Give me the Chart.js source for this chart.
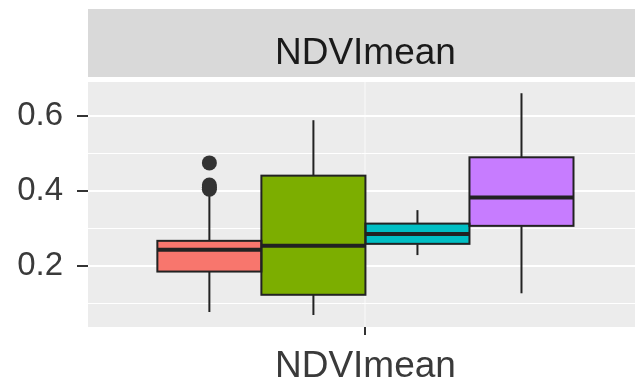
<!DOCTYPE html>
<html>
<head>
<meta charset="utf-8">
<script src="https://cdn.jsdelivr.net/npm/chart.js@4/dist/chart.umd.min.js"></script>
<style>
  html, body { margin: 0; padding: 0; background: #ffffff; }
  #wrap { width: 635px; height: 385px; }
</style>
</head>
<body>
<div id="wrap"><canvas id="c" width="635" height="385"></canvas></div>
<script>
// Facet / variable label
const facetLabel = 'NDVImean';

// Dodged group positions on the continuous x scale (one category at x = 1)
const groupPositions = [0.6625, 0.8875, 1.1125, 1.3375];
const boxColors = ['#F8766D', '#7CAE00', '#00BFC4', '#C77CFF'];

// Box statistics per group
const q1          = [0.185, 0.123, 0.259, 0.307];
const median      = [0.243, 0.254, 0.285, 0.383];
const q3          = [0.267, 0.441, 0.313, 0.490];
const whiskerLow  = [0.077, 0.069, 0.229, 0.127];
const whiskerHigh = [0.395, 0.589, 0.349, 0.661];

// Outliers: group index and value
const outlierGroup  = [0, 0, 0, 0];
const outlierValues = [0.475, 0.416, 0.410, 0.405];

// Y axis ticks
const yTicks = [0.2, 0.4, 0.6];
const yMinorTicks = [0.1, 0.3, 0.5];

Chart.defaults.font.family = "'Liberation Sans', Arial, sans-serif";

// Grey panel and facet strip
const panelPlugin = {
  id: 'panel',
  beforeDraw(chart) {
    const { ctx, chartArea: a } = chart;
    ctx.save();
    ctx.fillStyle = '#ECECEC';
    ctx.fillRect(a.left, a.top, a.right - a.left, a.bottom - a.top);
    ctx.fillStyle = '#D9D9D9';
    ctx.fillRect(a.left, 9, chart.width - a.left, 68);
    ctx.fillStyle = '#1A1A1A';
    ctx.font = "37px 'Liberation Sans', Arial, sans-serif";
    ctx.textAlign = 'center';
    ctx.textBaseline = 'alphabetic';
    ctx.fillText(facetLabel, chart.scales.x.getPixelForValue(1), 64);
    ctx.restore();
  }
};

// Whiskers behind the boxes, outlines and medians on top of them
const boxPartsPlugin = {
  id: 'boxParts',
  beforeDatasetsDraw(chart) {
    const y = chart.scales.y, ctx = chart.ctx;
    const meta = chart.getDatasetMeta(0);
    ctx.save();
    ctx.strokeStyle = '#222222';
    ctx.lineWidth = 2;
    meta.data.forEach((bar, i) => {
      ctx.beginPath();
      ctx.moveTo(bar.x, y.getPixelForValue(whiskerLow[i]));
      ctx.lineTo(bar.x, y.getPixelForValue(whiskerHigh[i]));
      ctx.stroke();
    });
    ctx.restore();
  },
  afterDatasetDraw(chart, args) {
    if (args.index !== 0) return;
    const y = chart.scales.y, ctx = chart.ctx;
    ctx.save();
    ctx.strokeStyle = '#222222';
    args.meta.data.forEach((bar, i) => {
      const left = bar.x - bar.width / 2;
      const top = Math.min(bar.y, bar.base);
      const h = Math.abs(bar.base - bar.y);
      ctx.lineWidth = 2;
      ctx.strokeRect(left, top, bar.width, h);
      const my = y.getPixelForValue(median[i]);
      ctx.lineWidth = 4;
      ctx.beginPath();
      ctx.moveTo(left, my);
      ctx.lineTo(left + bar.width, my);
      ctx.stroke();
    });
    ctx.restore();
  }
};

new Chart(document.getElementById('c'), {
  type: 'bar',
  data: {
    datasets: [
      {
        type: 'bar',
        data: groupPositions.map((x, i) => ({ x: x, y: [q1[i], q3[i]] })),
        backgroundColor: boxColors,
        borderWidth: 0,
        categoryPercentage: 1,
        barPercentage: 1,
        order: 2
      },
      {
        type: 'scatter',
        data: outlierValues.map((v, k) => ({ x: groupPositions[outlierGroup[k]], y: v })),
        pointRadius: 7.5,
        pointBackgroundColor: '#333333',
        pointBorderWidth: 0,
        order: 1
      }
    ]
  },
  options: {
    responsive: false,
    devicePixelRatio: 1,
    animation: false,
    layout: { autoPadding: false, padding: { top: 82, left: 0, right: 0, bottom: 0 } },
    plugins: { legend: { display: false }, tooltip: { enabled: false } },
    scales: {
      x: {
        type: 'linear',
        min: 0.4,
        max: 1.583,
        offset: false,
        afterBuildTicks: s => { s.ticks = [{ value: 1 }]; },
        afterFit: s => { s.height = 58; },
        ticks: {
          callback: () => facetLabel,
          color: '#3A3A3A',
          font: { size: 37 },
          padding: 10,
          maxRotation: 0,
          autoSkip: false
        },
        grid: { offset: false, color: '#F3F3F3', lineWidth: 2, tickColor: '#333333', tickLength: 8, tickWidth: 2 },
        border: { display: false }
      },
      y: {
        type: 'linear',
        min: 0.037,
        max: 0.691,
        afterBuildTicks: s => {
          s.ticks = yMinorTicks.concat(yTicks).sort((a, b) => a - b).map(v => ({ value: v }));
        },
        afterFit: s => { s.width = 88; },
        ticks: {
          callback: v => (yTicks.includes(v) ? v.toFixed(1) : ''),
          color: '#3A3A3A',
          font: { size: 33 },
          padding: 14,
          autoSkip: false
        },
        grid: {
          color: '#FFFFFF',
          lineWidth: c => (yTicks.includes(c.tick.value) ? 2 : 1),
          tickColor: c => (yTicks.includes(c.tick.value) ? '#333333' : 'rgba(0,0,0,0)'),
          tickLength: 11,
          tickWidth: 2
        },
        border: { display: false }
      }
    }
  },
  plugins: [panelPlugin, boxPartsPlugin]
});
</script>
</body>
</html>
